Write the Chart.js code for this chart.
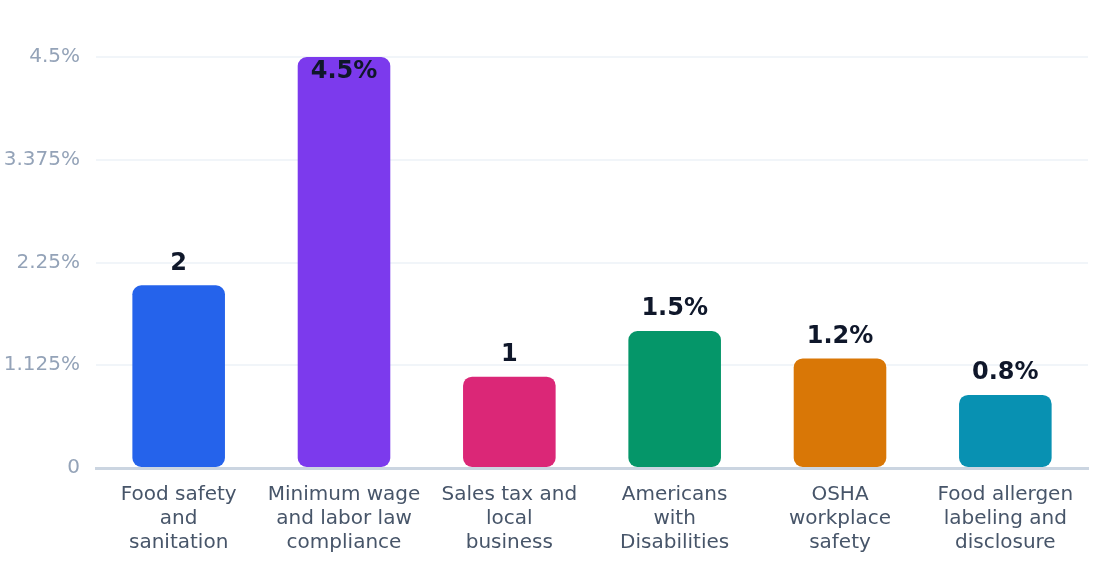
<!DOCTYPE html>
<html>
<head>
<meta charset="utf-8">
<script src="https://cdn.jsdelivr.net/npm/chart.js@4"></script>
<style>
  html, body { margin: 0; padding: 0; background: #ffffff; }
  #wrap { width: 1120px; height: 584px; }
</style>
</head>
<body>
<div id="wrap"><canvas id="chart"></canvas></div>
<script>
const categories = [
  ["Food safety", "and", "sanitation"],
  ["Minimum wage", "and labor law", "compliance"],
  ["Sales tax and", "local", "business"],
  ["Americans", "with", "Disabilities"],
  ["OSHA", "workplace", "safety"],
  ["Food allergen", "labeling and", "disclosure"],
];
const values = [2, 4.5, 1, 1.5, 1.2, 0.8];
const valueLabels = ["2", "4.5%", "1", "1.5%", "1.2%", "0.8%"];
const barColors = ["#2563eb", "#7c3aed", "#db2777", "#059669", "#d97706", "#0891b2"];
const yTicks = [0, 1.125, 2.25, 3.375, 4.5];

const FONT = "'DejaVu Sans', sans-serif";

// value labels above each bar (inside when there is no room on top)
const barLabels = {
  id: "barLabels",
  afterDatasetsDraw(chart) {
    const ctx = chart.ctx;
    const meta = chart.getDatasetMeta(0);
    const top = chart.chartArea.top;
    ctx.save();
    ctx.font = "bold 24px " + FONT;
    ctx.fillStyle = "#0f172a";
    ctx.textAlign = "center";
    ctx.textBaseline = "middle";
    meta.data.forEach((bar, i) => {
      let y = bar.y - 22;
      if (y - 12 < top) y = bar.y + 15;
      ctx.fillText(valueLabels[i], bar.x, y);
    });
    ctx.restore();
  },
};

new Chart(document.getElementById("chart"), {
  type: "bar",
  data: {
    labels: categories,
    datasets: [
      {
        data: values,
        backgroundColor: barColors,
        borderRadius: 9,
        borderSkipped: false,
        barPercentage: 0.56,
        categoryPercentage: 1,
      },
    ],
  },
  options: {
    responsive: true,
    maintainAspectRatio: false,
    animation: false,
    layout: { padding: { top: 57, right: 32, bottom: 22, left: 4 } },
    plugins: {
      legend: { display: false },
      tooltip: { enabled: false },
    },
    scales: {
      x: {
        grid: { display: false },
        border: { display: true, color: "#cbd5e1", width: 3 },
        ticks: {
          color: "#475569",
          font: { family: FONT, size: 20, lineHeight: 1.2 },
          padding: 7,
          maxRotation: 0,
          autoSkip: false,
        },
      },
      y: {
        min: 0,
        max: 4.5,
        afterBuildTicks: (axis) => {
          axis.ticks = yTicks.map((v) => ({ value: v }));
        },
        afterFit: (axis) => {
          axis.width = 92;
        },
        grid: { color: "#f1f5f9", lineWidth: 2, drawTicks: false },
        border: { display: false },
        ticks: {
          color: "#94a3b8",
          font: { family: FONT, size: 20 },
          padding: 16,
          callback: (v) => (v === 0 ? "0" : v + "%"),
        },
      },
    },
  },
  plugins: [barLabels],
});
</script>
</body>
</html>
